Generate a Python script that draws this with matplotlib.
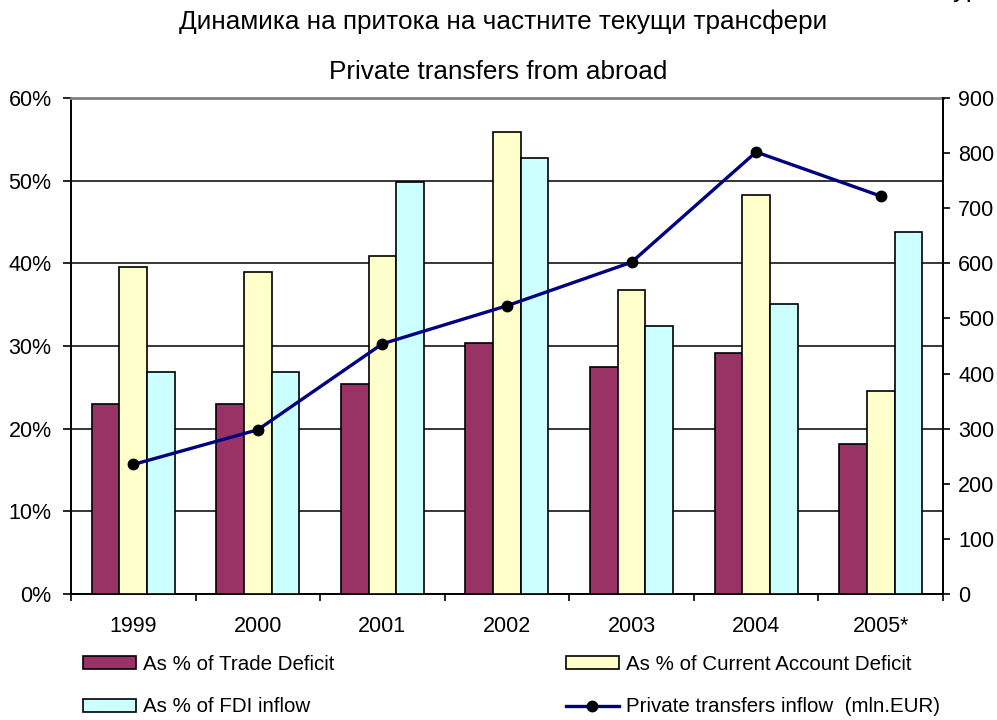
import matplotlib
matplotlib.use("Agg")
import matplotlib.pyplot as plt
import numpy as np
from matplotlib.ticker import FuncFormatter, FixedLocator

plt.rcParams["font.family"] = ["Liberation Sans", "DejaVu Sans"]

# ── Данни ──────────────────────────────────────────────
years = ["1999", "2000", "2001", "2002", "2003", "2004", "2005*"]
trade_deficit = [23.0, 23.0, 25.4, 30.4, 27.4, 29.2, 18.1]     # %
current_account = [39.6, 38.9, 40.9, 55.9, 36.8, 48.3, 24.6]   # %
fdi_inflow = [26.8, 26.8, 49.8, 52.7, 32.4, 35.1, 43.8]        # %
transfers_mln_eur = [235, 298, 454, 523, 602, 802, 722]        # mln EUR

COL_TRADE = "#993366"
COL_CA = "#FFFFCC"
COL_FDI = "#CCFFFF"
COL_LINE = "#000080"
FS = 15.5
FS_LEG = 14.8
FS_TITLE = 18.8

fig = plt.figure(figsize=(9.97, 7.2), dpi=100)
ax = fig.add_axes([0.0712, 0.175, 0.8746, 0.6889])

x = np.arange(len(years))
w = 0.222
b1 = ax.bar(x - w, trade_deficit, w, color=COL_TRADE, edgecolor="black", linewidth=1.2, zorder=3)
b2 = ax.bar(x, current_account, w, color=COL_CA, edgecolor="black", linewidth=1.2, zorder=3)
b3 = ax.bar(x + w, fdi_inflow, w, color=COL_FDI, edgecolor="black", linewidth=1.2, zorder=3)

ax.set_xlim(-0.5, len(years) - 0.5)
ax.set_ylim(0, 60)
ax.set_yticks(range(0, 61, 10))
ax.yaxis.set_major_formatter(FuncFormatter(lambda v, p: f"{v:.0f}%"))
ax.yaxis.grid(True, color="black", linewidth=1.1)
ax.set_axisbelow(True)

# ticks на границите, етикети в центъра
ax.xaxis.set_major_locator(FixedLocator(np.arange(-0.5, len(years), 1.0)))
ax.xaxis.set_major_formatter(FuncFormatter(lambda v, p: ""))
ax.xaxis.set_minor_locator(FixedLocator(x))
ax.set_xticklabels(years, minor=True)
ax.tick_params(axis="x", which="major", direction="out", length=5, width=1.2)
ax.tick_params(axis="x", which="minor", length=0, pad=16, labelsize=FS)
ax.tick_params(axis="y", direction="out", length=6, width=1.2, pad=8, labelsize=FS)

for side in ["left", "bottom", "right"]:
    ax.spines[side].set_color("black")
    ax.spines[side].set_linewidth(1.4)
ax.spines["top"].set_color("#808080")
ax.spines["top"].set_linewidth(2)

ax2 = ax.twinx()
ln, = ax2.plot(x, transfers_mln_eur, color=COL_LINE, linewidth=2.4, marker="o",
               markersize=7.5, markerfacecolor="black", markeredgecolor="black", zorder=5)
ax2.set_ylim(0, 900)
ax2.set_yticks(range(0, 901, 100))
ax2.tick_params(axis="y", direction="out", length=5, width=1.2, pad=6, labelsize=FS)
for side in ["left", "bottom", "top"]:
    ax2.spines[side].set_visible(False)
ax2.spines["right"].set_color("black")
ax2.spines["right"].set_linewidth(1.4)

# ── Заглавия ───────────────────────────────────────────
fig.text(0.505, 1 - 22 / 720, "Динамика на притока на частните текущи трансфери",
         ha="center", va="center", fontsize=FS_TITLE)
fig.text(0.5, 1 - 72 / 720, "Private transfers from abroad",
         ha="center", va="center", fontsize=FS_TITLE)
fig.text(0.912, 1.004, "Фигура", ha="left", va="baseline", fontsize=FS_TITLE)

# ── Легенда ────────────────────────────────────────────
leg_kw = dict(frameon=False, fontsize=FS_LEG, handlelength=2.57, handleheight=0.58,
              handletextpad=0.35, labelspacing=1.14, borderpad=0, borderaxespad=0)
fig.legend([b1, b3], ["As % of Trade Deficit", "As % of FDI inflow"],
           loc="upper left", bbox_to_anchor=(83 / 997, 1 - 655 / 720), **leg_kw)
fig.legend([b2, ln], ["As % of Current Account Deficit", "Private transfers inflow  (mln.EUR)"],
           loc="upper left", bbox_to_anchor=(566 / 997, 1 - 655 / 720), **leg_kw)

fig.savefig("out.png", dpi=100, facecolor="white")
